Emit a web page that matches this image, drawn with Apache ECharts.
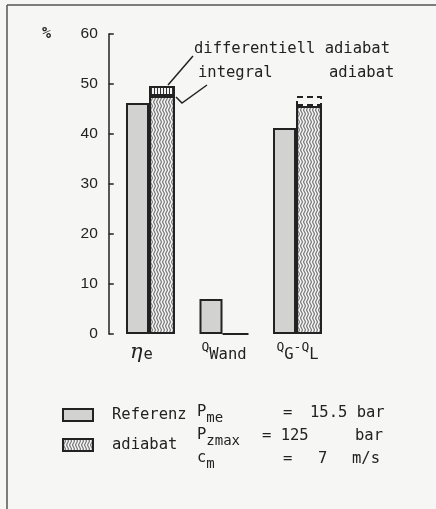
<!DOCTYPE html>
<html><head><meta charset="utf-8">
<script src="https://cdn.jsdelivr.net/npm/echarts@6/dist/echarts.min.js"></script>
<style>html,body{margin:0;padding:0;background:#f6f6f4;}#c{width:436px;height:509px;}</style>
</head><body><div id="c"></div>
<script>
const categories = ['eta', 'wand', 'ggl'];
const referenz = [46.2, 7.0, 41.2];
const adiabatIntegral = [47.6, 0, 45.6];
const adiabatDiffExtra = [2.0, null, 2.0];
const yTicks = [0, 10, 20, 30, 40, 50, 60];

function wavyPattern() {
  const c = document.createElement('canvas');
  c.width = 3; c.height = 8;
  const g = c.getContext('2d');
  g.fillStyle = '#f2f2f2'; g.fillRect(0, 0, 3, 8);
  g.strokeStyle = '#2a2a2a'; g.lineWidth = 0.9;
  g.beginPath();
  for (let y = 0; y <= 8; y += 0.5) {
    const x = 1.5 + 0.8 * Math.sin(2 * Math.PI * y / 8);
    if (y === 0) g.moveTo(x, y); else g.lineTo(x, y);
  }
  g.stroke();
  return c;
}
function vertPattern() {
  const c = document.createElement('canvas');
  c.width = 3; c.height = 4;
  const g = c.getContext('2d');
  g.fillStyle = '#f2f2f2'; g.fillRect(0, 0, 3, 4);
  g.fillStyle = '#333'; g.fillRect(1, 0, 1, 4);
  return c;
}
const wavy = { image: wavyPattern(), repeat: 'repeat' };
const vert = { image: vertPattern(), repeat: 'repeat' };
const FONT = 'DejaVu Sans Mono';
const ink = '#222';
const F15 = '15.5px "DejaVu Sans Mono"';

function sub(main, s, top) {
  return { type: 'text', left: 197, top: top, style: { text: '{p|' + main + '}{s|' + s + '}',
    rich: { p: { font: F15, fill: ink, verticalAlign: 'top', lineHeight: 21 },
            s: { font: '14px "DejaVu Sans Mono"', fill: ink, verticalAlign: 'bottom', lineHeight: 21 } } } };
}
function txt(t, left, top) {
  return { type: 'text', left: left, top: top, style: { text: t, font: F15, fill: ink } };
}

const chart = echarts.init(document.getElementById('c'), null, { renderer: 'canvas' });
chart.setOption({
  backgroundColor: '#f6f6f4',
  animation: false,
  textStyle: { fontFamily: FONT, color: ink },
  grid: { left: 113.75, width: 220.5, top: 34, bottom: 175 },
  legend: {
    data: [{ name: 'Referenz', icon: 'rect' }, { name: 'adiabat', icon: 'rect' }],
    orient: 'vertical', left: 62, top: 407, padding: 0,
    itemWidth: 30, itemHeight: 12, itemGap: 14,
    textStyle: { fontFamily: FONT, fontSize: 15.5, color: ink, padding: [0, 0, 0, 14] },
    selectedMode: false
  },
  xAxis: {
    type: 'category', data: categories,
    axisLine: { show: false }, axisTick: { show: false },
    axisLabel: {
      margin: 7, interval: 0,
      formatter: function (v) {
        if (v === 'eta') return '{eta|η}{e|e}';
        if (v === 'wand') return '{q|Q}{s|Wand}';
        return '{q|Q}{s|G}{q|-Q}{s|L}';
      },
      rich: {
        eta: { fontSize: 21, fontFamily: 'DejaVu Serif', fontStyle: 'italic', color: ink, verticalAlign: 'bottom', lineHeight: 22 },
        e: { fontSize: 15.5, fontFamily: FONT, color: ink, verticalAlign: 'bottom', lineHeight: 22, padding: [0, 18, 0, 1] },
        q: { fontSize: 13, fontFamily: FONT, color: ink, verticalAlign: 'top', lineHeight: 22 },
        s: { fontSize: 15.5, fontFamily: FONT, color: ink, verticalAlign: 'bottom', lineHeight: 22 }
      }
    }
  },
  yAxis: {
    type: 'value', min: 0, max: 60, interval: 10, offset: 5,
    axisLine: { show: true, lineStyle: { color: ink, width: 1.5 } },
    axisTick: { show: true, inside: true, length: 5, lineStyle: { color: ink, width: 1.5 } },
    splitLine: { show: false },
    axisLabel: { margin: 11, fontSize: 15.5, fontFamily: 'Liberation Sans', color: ink,
      formatter: function (v) { return yTicks.indexOf(v) >= 0 ? String(v) : ''; } }
  },
  series: [
    { name: 'Referenz', type: 'bar', data: referenz, barWidth: 23, barGap: '0%',
      itemStyle: { color: '#d2d2d0', borderColor: ink, borderWidth: 2 } },
    { name: 'adiabat', type: 'bar', stack: 'a', data: adiabatIntegral, barWidth: 26,
      itemStyle: { color: wavy, borderColor: ink, borderWidth: 2 } },
    { name: 'diff', type: 'bar', stack: 'a', barWidth: 26,
      data: adiabatDiffExtra.map(function (v, i) {
        if (v === null) return null;
        if (i === 0) return { value: v, itemStyle: { color: vert, borderColor: ink, borderWidth: 2 } };
        return { value: v, itemStyle: { color: 'rgba(0,0,0,0)', borderColor: ink, borderWidth: 2, borderType: [6, 4] } };
      }) }
  ],
  graphic: [
    { type: 'line', shape: { x1: 7, y1: 5, x2: 7, y2: 509 }, style: { stroke: '#555', lineWidth: 1.5 } },
    { type: 'line', shape: { x1: 7, y1: 5, x2: 436, y2: 5 }, style: { stroke: '#555', lineWidth: 1.5 } },
    { type: 'text', left: 42, top: 27, style: { text: '%', font: 'bold 15px "DejaVu Sans Mono"', fill: ink } },
    txt('differentiell adiabat', 194, 41),
    txt('integral', 198, 65),
    txt('adiabat', 329, 65),
    { type: 'polyline', shape: { points: [[193, 56], [168, 85]] }, style: { stroke: ink, lineWidth: 1.5, fill: null } },
    { type: 'polyline', shape: { points: [[207, 85], [182, 103], [176, 97]] }, style: { stroke: ink, lineWidth: 1.5, fill: null } },
    sub('P', 'me', 404),
    txt('=', 283, 405),
    txt('15.5 bar', 310, 405),
    sub('P', 'zmax', 427),
    txt('= 125', 262, 428),
    txt('bar', 355, 428),
    sub('c', 'm', 450),
    txt('=', 283, 451),
    txt('7', 318, 451),
    txt('m/s', 352, 451)
  ]
});
</script></body></html>
